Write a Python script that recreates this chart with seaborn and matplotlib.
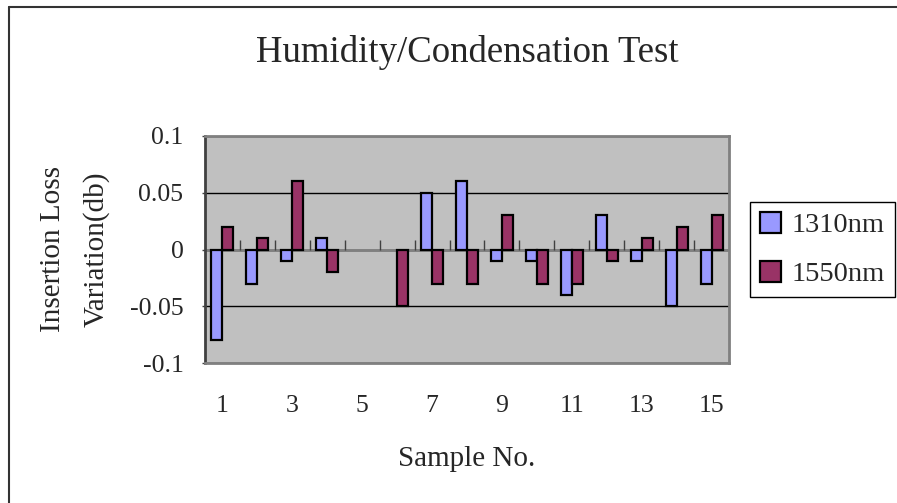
import numpy as np
import pandas as pd
import matplotlib
matplotlib.use("Agg")
import matplotlib.pyplot as plt
from matplotlib.lines import Line2D
from matplotlib.patches import Patch
import seaborn as sns

# values (nan = no bar drawn)
samples = [str(i) for i in range(1, 16)]
loss_1310 = [-0.08, -0.03, -0.01, 0.01, np.nan, np.nan, 0.05, 0.06, -0.01, -0.01, -0.04, 0.03, -0.01, -0.05, -0.03]
loss_1550 = [0.02, 0.01, 0.06, -0.02, np.nan, -0.05, -0.03, -0.03, 0.03, -0.03, -0.03, -0.01, 0.01, 0.02, 0.03]
series_names = ["1310nm", "1550nm"]
series_colors = ["#9999FF", "#993366"]
xtick_labels = ["1", "3", "5", "7", "9", "11", "13", "15"]
ytick_values = [-0.1, -0.05, 0, 0.05, 0.1]
ytick_labels = ["-0.1", "-0.05", "0", "0.05", "0.1"]

sns.set_style("white")
plt.rcParams["font.family"] = ["Liberation Serif", "DejaVu Serif"]
plt.rcParams["axes.unicode_minus"] = False

df = pd.DataFrame({
    "sample": samples * 2,
    "wavelength": [series_names[0]] * len(samples) + [series_names[1]] * len(samples),
    "value": loss_1310 + loss_1550,
})

fig = plt.figure(figsize=(8.97, 5.03), dpi=100)
ax = fig.add_axes([205 / 897, 1 - 363 / 503, 524 / 897, 227 / 503])
ax.set_facecolor("#C0C0C0")

sns.barplot(ax=ax, data=df, x="sample", y="value", hue="wavelength", order=samples,
            hue_order=series_names, palette=series_colors, width=0.63, gap=0,
            errorbar=None, edgecolor="black", linewidth=1.6, saturation=1, legend=False)

ax.set_xlim(-0.5, len(samples) - 0.5)
ax.set_ylim(-0.1, 0.1)

# gridlines, zero axis line and category separators
ax.set_axisbelow(True)
ax.yaxis.grid(True, color="black", linewidth=1)
ax.axhline(0, color="#808080", linewidth=2, zorder=0.8)
ax.vlines(np.arange(0.5, len(samples) - 1, 1), 0, 0.008, color="#404040", linewidth=1, zorder=0.8)

ax.set_xticks(np.arange(0, len(samples), 2))
ax.set_xticklabels(xtick_labels, fontsize=18.5)
ax.tick_params(axis="x", length=0, pad=23)
ax.set_yticks(ytick_values)
ax.set_yticklabels(ytick_labels, fontsize=18.5)
ax.tick_params(axis="y", direction="out", length=2.5, width=1, color="#404040", pad=13, left=True)

for side in ["top", "right", "bottom"]:
    ax.spines[side].set_color("#808080")
    ax.spines[side].set_linewidth(2)
ax.spines["left"].set_color("#404040")
ax.spines["left"].set_linewidth(2)

ax.set_xlabel("Sample No.", fontsize=21, va="center")
ax.xaxis.set_label_coords(0.5, -0.425)
ax.set_ylabel("Insertion Loss\nVariation(db)", fontsize=21, va="center", linespacing=1.8)
ax.yaxis.set_label_coords(-0.248, 0.5)

fig.text(467 / 897, 1 - 52 / 503, "Humidity/Condensation Test", fontsize=26.5, ha="center", va="center")

handles = [Patch(facecolor=c, edgecolor="black", linewidth=1.6) for c in series_colors]
leg = fig.legend(handles, series_names, loc="upper left", bbox_to_anchor=(750 / 897, 1 - 202 / 503),
                 frameon=True, fancybox=False, edgecolor="black", framealpha=1,
                 fontsize=20.5, handlelength=0.75, handleheight=0.75, handletextpad=0.35,
                 labelspacing=0.8, borderpad=0.35, borderaxespad=0)
leg.get_frame().set_linewidth(1)

# outer chart frame (left and top edges visible in the reference)
fig.add_artist(Line2D([8.5 / 897, 8.5 / 897], [0, 1 - 6.5 / 503], color="#333333", linewidth=1.5))
fig.add_artist(Line2D([8.5 / 897, 1], [1 - 6.5 / 503, 1 - 6.5 / 503], color="#333333", linewidth=1.5))

fig.savefig("out.png", dpi=100)
